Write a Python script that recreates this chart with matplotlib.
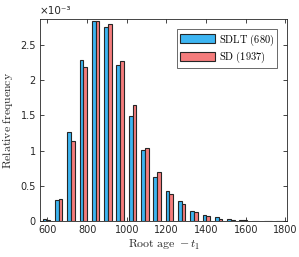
import numpy as np
import matplotlib
matplotlib.use("Agg")
import matplotlib.pyplot as plt

# bin centers of the root-age histogram
centers = [595, 657, 719, 781, 843, 905, 967, 1029, 1091, 1153,
           1215, 1277, 1339, 1401, 1463, 1525, 1587, 1649, 1711, 1773]
# relative frequency (x 1e-3)
sdlt = [0.025, 0.295, 1.268, 2.29, 2.84, 2.75, 2.21, 1.49, 1.003, 0.626,
        0.42, 0.28, 0.149, 0.092, 0.05, 0.035, 0.008, 0.004, 0.002, 0.002]
sd = [0.02, 0.314, 1.14, 2.19, 2.84, 2.80, 2.27, 1.65, 1.03, 0.69,
      0.39, 0.24, 0.13, 0.073, 0.03, 0.01, 0.012, 0.004, 0.002, 0.001]
labels = [r"$\mathrm{SDLT\ (680)}$", r"$\mathrm{SD\ (1937)}$"]

plt.rcParams['mathtext.fontset'] = 'cm'

c = np.array(centers)
w = 19
fig = plt.figure(figsize=(2.99, 2.57), dpi=100)
ax = fig.add_axes([0.134, 0.14, 0.826, 0.786])
ax.bar(c - w / 2, np.array(sdlt) * 1e-3, width=w, color='#3db5f2',
       edgecolor='#262626', linewidth=0.8, label=labels[0])
ax.bar(c + w / 2, np.array(sd) * 1e-3, width=w, color='#f47c7c',
       edgecolor='#262626', linewidth=0.8, label=labels[1])

ax.set_xlim(563, 1808)
ax.set_ylim(0, 2.868e-3)
ax.set_xticks(np.arange(600, 1801, 200))
yt = np.arange(0, 2.6e-3, 0.5e-3)
ax.set_yticks(yt)
ax.set_yticklabels(['%g' % (v * 1e3) for v in yt])
ax.tick_params(direction='in', top=True, right=True, length=3, width=0.6,
               labelsize=7, colors='#262626', pad=3)
# exponent label like MATLAB
ax.text(0.0, 1.015, "×10⁻³", transform=ax.transAxes, fontsize=7.5,
        color='#262626', ha='left', va='bottom')
for s in ax.spines.values():
    s.set_linewidth(0.6)
    s.set_color('#262626')

ax.set_xlabel(r"$\mathrm{Root\ age}\ -t_1$", fontsize=8.5, color='#262626', labelpad=2)
ax.set_ylabel(r"$\mathrm{Relative\ frequency}$", fontsize=8.5, color='#262626', labelpad=4)

leg = ax.legend(loc='upper right', bbox_to_anchor=(0.96, 0.95), fontsize=7.5,
                frameon=True, fancybox=False, edgecolor='#262626',
                handlelength=3.4, handleheight=1.0, handletextpad=0.3,
                borderpad=0.3, labelspacing=0.2, borderaxespad=0)
leg.get_frame().set_linewidth(0.6)

fig.savefig("out.png", dpi=100)
